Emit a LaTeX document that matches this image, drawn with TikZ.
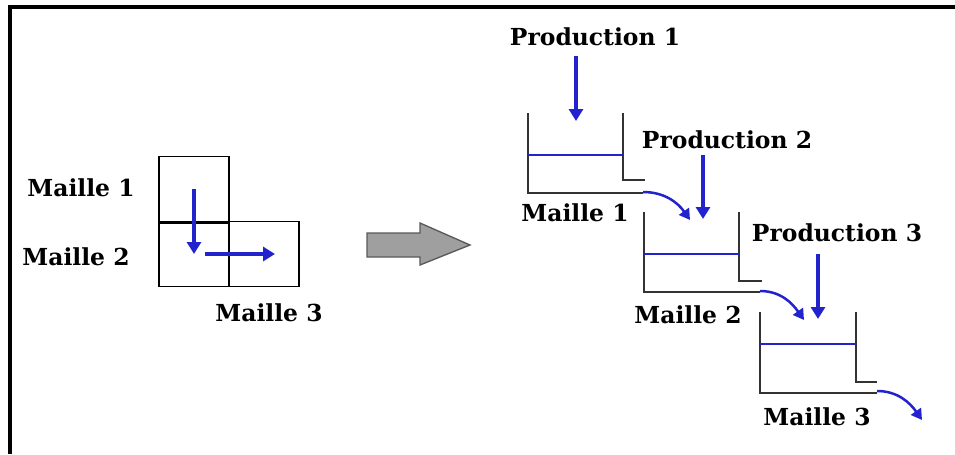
\documentclass[tikz,border=0pt]{standalone}
\usepackage{fontspec}
\setmainfont{DejaVu Serif}
\usetikzlibrary{arrows.meta}

\definecolor{flowblue}{RGB}{35,35,205}

\tikzset{
  lbl/.style={font=\bfseries\fontsize{20}{20}\selectfont, inner sep=0pt},
  cell/.style={draw, line width=0.45mm, minimum width=21mm, minimum height=19.5mm, inner sep=0pt},
  flow/.style={flowblue, line width=1.3mm, -{Triangle[length=3.6mm,width=4.2mm]}},
  spill/.style={flowblue, line width=0.75mm, -{Triangle[length=3.2mm,width=3.6mm]}},
  wall/.style={black!80, line width=0.65mm},
  level/.style={flowblue, line width=0.45mm},
}

\begin{document}
\begin{tikzpicture}[x=0.3mm, y=-0.3mm]
\useasboundingbox (0,0) rectangle (955,454);
% frame
\draw[line width=1mm] (955,7) -- (10,7) -- (10,454);

% grid of three cells
\node[cell] (m1) at (194,189) {};
\node[cell] (m2) at (194,254) {};
\node[cell] (m3) at (264,254) {};
\draw[line width=0.9mm] (m1.south west) -- (m1.south east);
\draw[flow] (m1.center) -- (m2.center);
\draw[flow] ([xshift=3.3mm]m2.center) -- ([xshift=3.3mm]m3.center);
\node[lbl] (g1) at (81,188) {Maille 1};
\node[lbl] (g2) at (76,257) {Maille 2};
\node[lbl] (g3) at (269,313) {Maille 3};

% transfer arrow
\draw[fill=gray!75, draw=black!65, line width=0.4mm]
  (367,233) -- (420,233) -- (420,223) -- (470,245) -- (420,265) -- (420,257) -- (367,257) -- cycle;

% reservoir 1
\draw[wall] (528,113) -- (528,193) -- (643,193);
\draw[wall] (623,113) -- (623,180) -- (645,180);
\draw[level] (528,155) -- (623,155);
% reservoir 2
\draw[wall] (644,212) -- (644,292) -- (760,292);
\draw[wall] (739,212) -- (739,281) -- (762,281);
\draw[level] (644,254) -- (739,254);
% reservoir 3
\draw[wall] (760,312) -- (760,393) -- (877,393);
\draw[wall] (856,312) -- (856,382) -- (877,382);
\draw[level] (760,344) -- (856,344);

\coordinate (out1) at (643,192);
\coordinate (in2) at (690,220);
\coordinate (out2) at (760,291);
\coordinate (in3) at (804,320);
\coordinate (out3) at (877,391);
\coordinate (end3) at (922,420);
\coordinate (top1) at (576,121);
\coordinate (top2) at (703,219);
\coordinate (top3) at (818,319);

% inputs and labels
\node[lbl] (p1) at (595,37) {Production 1};
\node[lbl] (p2) at (727,140) {Production 2};
\node[lbl] (p3) at (837,233) {Production 3};
\node[lbl] (r1) at (575,213) {Maille 1};
\node[lbl] (r2) at (688,315) {Maille 2};
\node[lbl] (r3) at (817,417) {Maille 3};

\draw[flow] (p1.south -| top1) ++(0,10) -- (top1);
\draw[flow] (p2.south -| top2) ++(0,6) -- (top2);
\draw[flow] (p3.south -| top3) ++(0,12) -- (top3);

% overflow between reservoirs
\draw[spill] (out1) to[out=0, in=125] (in2);
\draw[spill] (out2) to[out=0, in=125] (in3);
\draw[spill] (out3) to[out=0, in=125] (end3);
\end{tikzpicture}
\end{document}
